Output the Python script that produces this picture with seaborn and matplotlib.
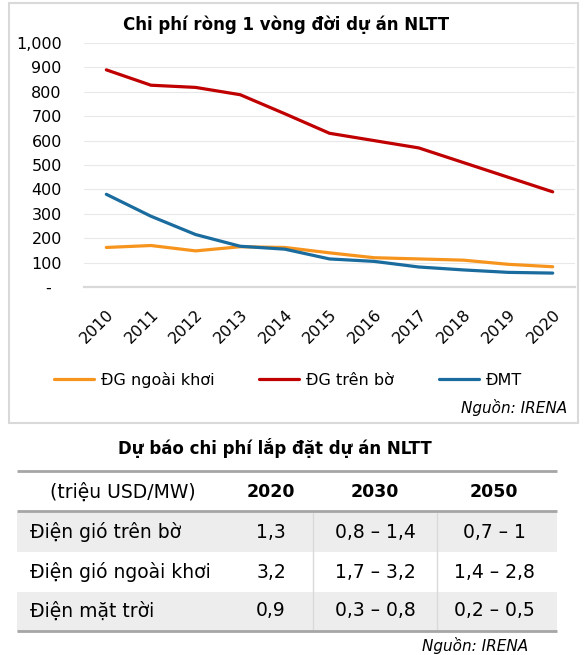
import numpy as np
import pandas as pd
import matplotlib.pyplot as plt
import seaborn as sns
from matplotlib.patches import Rectangle

sns.set_theme(style='white')
plt.rcParams['font.family'] = ['DejaVu Sans']
plt.rcParams['text.color'] = 'black'
plt.rcParams['xtick.color'] = 'black'
plt.rcParams['ytick.color'] = 'black'
plt.rcParams['axes.labelcolor'] = 'black'

# ---- data: chart ----
years = [2010, 2011, 2012, 2013, 2014, 2015, 2016, 2017, 2018, 2019, 2020]
dg_ngoai_khoi = [162, 170, 148, 165, 162, 140, 120, 115, 110, 93, 83]
dg_tren_bo = [890, 827, 818, 788, 710, 630, 600, 570, 510, 450, 390]
dmt = [380, 290, 215, 167, 155, 115, 105, 82, 70, 60, 57]
series_names = ['ĐG ngoài khơi', 'ĐG trên bờ', 'ĐMT']
series_colors = ['#F7941D', '#C00000', '#1A6B9E']

y_ticks = [0, 100, 200, 300, 400, 500, 600, 700, 800, 900, 1000]
y_tick_labels = ['-  ', '100', '200', '300', '400', '500', '600', '700', '800', '900', '1,000']

# ---- data: table ----
table_header = ['(triệu USD/MW)', '2020', '2030', '2050']
table_rows = ['Điện gió trên bờ', 'Điện gió ngoài khơi', 'Điện mặt trời']
cost_2020 = ['1,3', '3,2', '0,9']
cost_2030 = ['0,8 – 1,4', '1,7 – 3,2', '0,3 – 0,8']
cost_2050 = ['0,7 – 1', '1,4 – 2,8', '0,2 – 0,5']

df = pd.DataFrame({
    'year': years * 3,
    'value': dg_ngoai_khoi + dg_tren_bo + dmt,
    'series': [series_names[0]] * 11 + [series_names[1]] * 11 + [series_names[2]] * 11,
})

W, H = 587, 655
fig = plt.figure(figsize=(W / 100, H / 100), dpi=100)

# background axes in pixel coordinates (box + table)
bg = fig.add_axes([0, 0, 1, 1], zorder=0)
bg.set_xlim(0, W)
bg.set_ylim(H, 0)
bg.axis('off')
bg.add_patch(Rectangle((9, 3), 569, 420, fill=False, ec='#D9D9D9', lw=1.5))

# ---- line chart ----
ax = fig.add_axes([84 / W, 1 - 287 / H, (575 - 84) / W, (287 - 43) / H], zorder=1)
ax.set_facecolor('none')
sns.lineplot(data=df, x='year', y='value', hue='series', hue_order=series_names,
             palette=dict(zip(series_names, series_colors)), linewidth=2.3,
             ax=ax, legend=False)
ax.set_xlim(2009.5, 2020.5)
ax.set_ylim(0, 1000)
ax.set_yticks(y_ticks)
ax.set_yticklabels(y_tick_labels, fontsize=11.5)
ax.set_xticks(years)
ax.set_xticklabels([str(y) for y in years], fontsize=11.5)
plt.setp(ax.get_xticklabels(), rotation=45, ha='right', va='top', rotation_mode='anchor')
ax.tick_params(axis='x', length=0, pad=14)
ax.tick_params(axis='y', length=0, pad=16)
ax.set_xlabel('')
ax.set_ylabel('')
ax.yaxis.grid(True, color='#E8E8E8', lw=0.8)
ax.set_axisbelow(True)
for s in ['left', 'right', 'top']:
    ax.spines[s].set_visible(False)
ax.spines['bottom'].set_color('#D9D9D9')
ax.spines['bottom'].set_linewidth(1.6)

fig.text(286 / W, 1 - 25 / H, 'Chi phí ròng 1 vòng đời dự án NLTT',
         ha='center', va='center', fontsize=12, fontweight='bold')

fig.legend(ax.lines[:3], series_names, loc='center', bbox_to_anchor=(288 / W, 1 - 380 / H),
           ncol=3, frameon=False, fontsize=11.5, handlelength=2.5,
           handletextpad=0.45, columnspacing=2.8)

fig.text(567 / W, 1 - 407 / H, 'Nguồn: IRENA', ha='right', va='center',
         fontsize=11, style='italic')

# ---- table ----
bg.text(275, 448, 'Dự báo chi phí lắp đặt dự án NLTT', ha='center', va='center',
        fontsize=12, fontweight='bold')

tx0, tx1 = 17, 557
row_tops = [512, 552, 592]
row_h = [40, 40, 39]
for i, (top, h) in enumerate(zip(row_tops, row_h)):
    if i % 2 == 0:
        bg.add_patch(Rectangle((tx0, top), tx1 - tx0, h, color='#EDEDED', lw=0))
bg.vlines([313, 437], 512, 630, color='#D9D9D9', lw=1)
bg.hlines([471, 511, 631], tx0, tx1, color='#A6A6A6', lw=2)

col_x = [123, 271, 375, 494]
bg.text(col_x[0], 492, table_header[0], ha='center', va='center', fontsize=13.5)
for cx, lab in zip(col_x[1:], table_header[1:]):
    bg.text(cx, 492, lab, ha='center', va='center', fontsize=12.5, fontweight='bold')

row_y = [532, 572, 611]
for i, ry in enumerate(row_y):
    bg.text(30, ry, table_rows[i], ha='left', va='center', fontsize=13.5)
    for cx, vals in zip(col_x[1:], [cost_2020, cost_2030, cost_2050]):
        bg.text(cx, ry, vals[i], ha='center', va='center', fontsize=13.5)

bg.text(528, 646, 'Nguồn: IRENA', ha='right', va='center', fontsize=11, style='italic')

fig.savefig('out.png', dpi=100)
